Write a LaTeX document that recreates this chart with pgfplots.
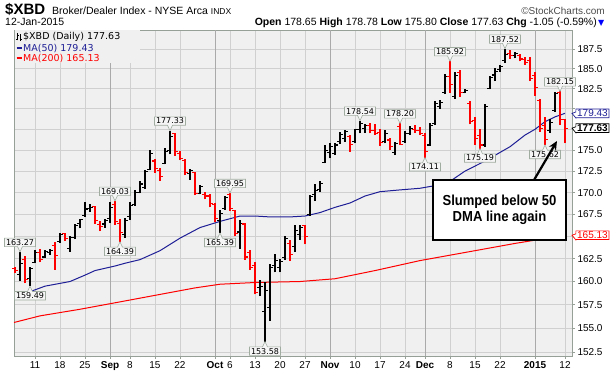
\documentclass[border=0pt]{standalone}
\usepackage{fontspec}
\setmainfont{Liberation Sans}
\newfontfamily\dejavu{DejaVu Sans}
\usepackage{pgfplots}
\pgfplotsset{compat=1.18}
\usepackage{pgfplotstable}
\usetikzlibrary{shapes.callouts,arrows.meta}

\definecolor{bg}{RGB}{240,240,240}
\definecolor{gridc}{RGB}{208,208,208}
\definecolor{gridm}{RGB}{170,170,170}
\definecolor{framec}{RGB}{150,160,150}
\definecolor{maBlue}{RGB}{30,30,150}
\definecolor{barRed}{RGB}{255,0,0}
\definecolor{labfill}{RGB}{246,246,246}
\definecolor{labdraw}{RGB}{160,172,160}

\pgfdeclareplotmark{otick}{\pgfpathmoveto{\pgfqpoint{-2.6pt}{0pt}}\pgfpathlineto{\pgfqpoint{0pt}{0pt}}\pgfusepathqstroke}
\pgfdeclareplotmark{ctick}{\pgfpathmoveto{\pgfqpoint{0pt}{0pt}}\pgfpathlineto{\pgfqpoint{2.6pt}{0pt}}\pgfusepathqstroke}

\pgfplotstableread{
i o h l c
1 160.8 163.27 160.1 162.0
3 160.3 161.6 159.49 161.4
4 162.1 163.5 162.0 163.2
6 162.7 163.5 162.6 163.3
7 163.2 163.6 162.9 163.4
9 164.4 165.4 164.3 165.2
11 163.6 165.0 163.3 164.9
12 164.9 166.4 164.7 166.2
13 166.5 167.0 165.9 166.9
14 167.4 168.9 167.2 168.1
15 168.2 168.7 167.8 168.3
18 166.4 167.0 166.0 166.8
19 167.0 168.9 166.5 168.3
22 165.2 167.1 164.8 166.8
23 167.2 168.9 166.9 168.5
24 168.6 170.3 168.5 170.0
25 170.0 171.3 169.9 171.0
26 170.6 172.7 170.4 172.5
27 172.7 175.0 172.6 174.6
30 173.4 175.2 173.3 174.8
31 175.0 177.33 174.5 176.6
35 172.2 172.8 171.5 172.6
37 169.9 170.9 169.8 170.7
41 166.8 168.0 165.39 167.6
42 168.2 169.6 168.0 169.4
45 165.5 166.8 163.6 166.5
49 159.3 160.2 158.4 159.5
50 156.8 160.0 153.58 159.0
51 157.2 161.9 155.8 161.5
52 161.8 163.0 161.0 162.3
53 161.5 162.5 161.0 162.2
54 162.6 165.0 162.4 164.8
56 163.9 166.3 163.3 165.7
57 165.2 166.3 164.6 166.0
59 167.5 169.7 167.3 169.5
60 169.8 171.0 169.0 170.2
61 170.4 171.3 170.1 171.1
62 173.5 175.6 173.4 175.0
63 174.7 175.8 174.0 175.4
64 174.6 175.8 174.4 175.6
65 176.0 177.2 175.7 176.9
66 176.4 177.4 176.0 177.2
68 176.0 177.6 175.8 177.5
69 177.5 178.54 177.0 178.2
70 177.6 178.1 177.1 178.0
74 176.0 177.4 175.8 177.0
76 174.7 176.0 174.4 175.8
78 176.0 177.3 175.9 177.0
79 177.0 177.9 176.8 177.6
83 175.6 178.2 175.5 177.9
84 178.2 180.9 178.0 180.6
85 180.3 181.1 180.0 180.8
86 182.0 184.3 181.8 184.0
88 181.5 184.6 181.2 184.1
90 182.0 182.4 181.9 182.2
94 175.6 180.6 175.4 180.3
95 182.5 184.0 182.4 183.9
96 184.2 185.1 183.4 184.6
97 184.9 185.5 184.6 185.3
98 186.0 187.52 185.7 186.8
100 186.6 187.1 186.3 186.9
107 177.4 178.7 177.1 178.3
108 179.8 182.1 179.6 181.9
}\blackbars

\pgfplotstableread{
i o h l c
0 161.4 161.6 160.9 161.2
2 162.4 162.8 159.8 160.2
5 163.2 163.6 162.1 162.4
8 164.0 164.4 161.3 162.9
10 165.3 165.4 164.5 164.8
16 168.4 168.5 166.4 166.8
17 166.3 166.7 165.6 166.1
20 168.6 169.03 166.3 166.7
21 166.5 167.0 164.39 165.4
28 173.7 173.9 172.3 172.8
29 172.6 172.9 171.4 171.9
32 177.0 177.1 174.3 174.8
33 174.6 174.9 173.8 174.0
34 173.8 173.9 172.0 172.3
36 172.3 172.4 169.7 169.9
38 169.8 170.1 169.2 169.6
39 169.6 169.8 168.3 168.7
40 168.6 168.8 166.6 167.0
43 169.8 169.95 167.9 168.2
44 167.9 168.0 165.0 165.3
46 166.4 166.5 162.4 162.7
47 163.2 163.5 161.3 161.5
48 161.8 162.2 158.6 158.8
55 164.2 164.6 162.3 163.0
58 166.2 166.3 164.1 165.0
67 176.6 176.8 174.8 175.7
71 178.0 178.3 177.0 177.4
72 177.4 178.1 176.8 177.0
73 177.1 177.6 175.5 175.9
75 176.2 176.4 175.0 175.4
77 177.8 178.20 175.6 175.7
80 177.5 178.0 177.1 177.3
81 177.3 177.8 176.8 177.0
82 176.8 177.0 174.11 174.8
87 184.0 185.92 182.0 183.0
89 184.5 184.8 181.5 182.0
91 180.6 180.9 178.1 178.4
92 178.6 179.0 175.6 176.4
93 176.8 177.5 175.19 175.6
99 186.9 187.3 186.2 186.6
101 186.7 186.8 185.9 186.2
102 186.1 186.5 185.5 185.8
103 186.0 186.5 183.4 183.8
104 184.1 184.6 181.6 182.6
105 181.0 181.2 177.2 177.6
106 178.0 179.0 175.62 176.3
109 182.0 182.15 178.0 178.68
110 178.65 178.78 175.80 177.63
}\redbars

\tikzset{
 vlab/.style={rectangle callout, draw=labdraw, fill=labfill, inner xsep=1.5pt, inner ysep=1.2pt,
   font=\dejavu\fontsize{8}{8}\selectfont, callout pointer width=5pt, line width=0.6pt},
 rlab/.style={rectangle callout, fill=white, inner xsep=1.3pt, inner ysep=0.8pt, line width=0.7pt,
   font=\fontsize{10}{10}\selectfont, callout pointer width=6pt, anchor=west},
}

\begin{document}
\begin{tikzpicture}[x=1pt,y=1pt]
\path[use as bounding box] (0,0) rectangle (614,375);

% header
\node[anchor=base west, inner sep=0] at (5,360.5) {\fontsize{15}{15}\selectfont\bfseries \$XBD};
\node[anchor=base west, inner sep=0] at (52,360.5) {\fontsize{10.5}{10.5}\selectfont Broker/Dealer Index - NYSE Arca \fontsize{8.5}{8.5}\selectfont INDX};
\node[anchor=base east, inner sep=0, text=black!70] at (605,360.5) {\fontsize{10}{10}\selectfont \textcopyright StockCharts.com};
\node[anchor=base west, inner sep=0] at (5,349) {\fontsize{10.5}{10.5}\selectfont 12-Jan-2015};
\node[anchor=base east, inner sep=0] at (597,349) {\fontsize{10.5}{10.5}\selectfont \textbf{Open} 178.65 \textbf{High} 178.78 \textbf{Low} 175.80 \textbf{Close} 177.63 \textbf{Chg} -1.05 (-0.59\%)};
\node[anchor=base west, inner sep=0, text=blue] at (598,349) {\dejavu\fontsize{8}{8}\selectfont ▼};

\begin{axis}[
  at={(14pt,19pt)}, anchor=south west, scale only axis,
  width=558pt, height=326pt,
  ymode=log, ymin=152.09, ymax=189.94,
  xmin=-0.2, xmax=111.4,
  clip=false,
  axis background/.style={fill=bg},
  axis line style={framec, line width=0.8pt},
  ytick={152.5,155,157.5,160,162.5,165,167.5,170,172.5,175,177.5,180,182.5,185,187.5},
  yticklabels={152.5,155.0,157.5,160.0,162.5,{},167.5,170.0,172.5,175.0,{},{},182.5,185.0,187.5},
  ytick pos=right, yticklabel pos=right,
  xtick={4,9,14,19,23,28,33,40,43,48,53,58,63,68,73,78,82,87,92,97,104,110},
  xticklabels={11,18,25,\textbf{Sep},8,15,22,\textbf{Oct},6,13,20,27,\textbf{Nov},10,17,24,\textbf{Dec},8,15,22,\textbf{2015},12},
  xtick pos=bottom,
  minor xtick={0,1,...,110},
  tick align=outside, major tick length=3pt, minor tick length=1.5pt,
  tick style={framec, line width=0.6pt},
  grid=major, grid style={gridc, line width=0.6pt},
  extra x ticks={19,40,63,82,104}, extra x tick labels={},
  extra x tick style={grid style={gridm, line width=0.7pt}, major tick length=0pt},
  every tick label/.append style={font=\fontsize{10}{10}\selectfont, text=black},
  x tick label style={yshift=1pt},
  y tick label style={xshift=-1pt},
]

% moving averages
\addplot[barRed, line width=1pt] coordinates {
(-0.2,155.6) (5,156.3) (13,157.0) (21,157.8) (29,158.6) (36,159.3) (41,159.7) (48,159.9)
(57,160.0) (64,160.3) (72,161.2) (81,162.3) (90,163.2) (100,164.2) (110,165.13)};
\addplot[maBlue, line width=1pt] coordinates {
(3,158.9) (6,159.5) (11,160.0) (14,160.7) (16,161.2) (20,161.7) (22,162.0) (25,162.4)
(29,163.4) (33,164.8) (37,166.0) (41,166.7) (45,167.3) (48,167.3) (51,167.2) (55,167.2)
(58,167.3) (61,167.7) (64,168.3) (67,168.8) (70,169.6) (73,170.1) (77,170.3) (81,170.5)
(84,170.8) (87,171.3) (90,172.5) (94,173.7) (99,175.4) (102,176.8) (104,177.5) (106,178.4)
(108,179.0) (110,179.43)};

% OHLC bars: high-low
\addplot[draw=none, mark=none, error bars/.cd, y dir=plus, y explicit, error mark=none,
  error bar style={draw=black, line width=1.1pt}]
  table[x=i, y=l, y error expr=\thisrow{h}-\thisrow{l}] {\blackbars};
\addplot[draw=none, mark=none, error bars/.cd, y dir=plus, y explicit, error mark=none,
  error bar style={draw=barRed, line width=1.1pt}]
  table[x=i, y=l, y error expr=\thisrow{h}-\thisrow{l}] {\redbars};
% open / close ticks
\addplot[black, only marks, mark=otick, mark options={line width=1.1pt, black}] table[x=i, y=o] {\blackbars};
\addplot[black, only marks, mark=ctick, mark options={line width=1.1pt, black}] table[x=i, y=c] {\blackbars};
\addplot[barRed, only marks, mark=otick, mark options={line width=1.1pt, barRed}] table[x=i, y=o] {\redbars};
\addplot[barRed, only marks, mark=ctick, mark options={line width=1.1pt, barRed}] table[x=i, y=c] {\redbars};

% swing labels (highs)
\node[vlab, anchor=south, callout absolute pointer={(axis cs:1,163.27)}] at ([yshift=5pt]axis cs:1,163.27) {163.27};
\node[vlab, anchor=south, callout absolute pointer={(axis cs:20,169.03)}] at ([yshift=5pt]axis cs:20,169.03) {169.03};
\node[vlab, anchor=south, callout absolute pointer={(axis cs:31,177.33)}] at ([yshift=5pt]axis cs:31,177.33) {177.33};
\node[vlab, anchor=south, callout absolute pointer={(axis cs:43,169.95)}] at ([yshift=5pt]axis cs:43,169.95) {169.95};
\node[vlab, anchor=south, callout absolute pointer={(axis cs:69,178.54)}] at ([yshift=5pt]axis cs:69,178.54) {178.54};
\node[vlab, anchor=south, callout absolute pointer={(axis cs:77,178.20)}] at ([yshift=5pt]axis cs:77,178.20) {178.20};
\node[vlab, anchor=south, callout absolute pointer={(axis cs:87,185.92)}] at ([yshift=5pt]axis cs:87,185.92) {185.92};
\node[vlab, anchor=south, callout absolute pointer={(axis cs:98,187.52)}] at ([yshift=5pt]axis cs:98,187.52) {187.52};
\node[vlab, anchor=south, callout absolute pointer={(axis cs:109,182.15)}] at ([yshift=5pt]axis cs:109,182.15) {182.15};
% swing labels (lows)
\node[vlab, anchor=north, callout absolute pointer={(axis cs:3,159.49)}] at ([yshift=-5pt]axis cs:3,159.49) {159.49};
\node[vlab, anchor=north, callout absolute pointer={(axis cs:21,164.39)}] at ([yshift=-5pt]axis cs:21,164.39) {164.39};
\node[vlab, anchor=north, callout absolute pointer={(axis cs:41,165.39)}] at ([yshift=-5pt]axis cs:41,165.39) {165.39};
\node[vlab, anchor=north, callout absolute pointer={(axis cs:50,153.58)}] at ([yshift=-5pt]axis cs:50,153.58) {153.58};
\node[vlab, anchor=north, callout absolute pointer={(axis cs:82,174.11)}] at ([yshift=-5pt]axis cs:82,174.11) {174.11};
\node[vlab, anchor=north, callout absolute pointer={(axis cs:93,175.19)}] at ([yshift=-5pt]axis cs:93,175.19) {175.19};
\node[vlab, anchor=north, callout absolute pointer={(axis cs:106,175.62)}] at ([yshift=-5pt]axis cs:106,175.62) {175.62};

% right-hand value tags
\node[rlab, draw=maBlue, text=maBlue, callout absolute pointer={(axis cs:111.4,179.43)}] at ([xshift=3.5pt]axis cs:111.4,179.43) {179.43};
\node[rlab, draw=black, text=black, font=\fontsize{10}{10}\selectfont\bfseries, callout absolute pointer={(axis cs:111.4,177.63)}] at ([xshift=3.5pt]axis cs:111.4,177.63) {177.63};
\node[rlab, draw=barRed, text=barRed, callout absolute pointer={(axis cs:111.4,165.13)}] at ([xshift=3.5pt]axis cs:111.4,165.13) {165.13};
\end{axis}

% legend
\fill[bg] (15,312) rectangle (140,344.5);
\begin{scope}[line width=0.8pt]
\draw (17.5,334.5)--(17.5,341.5); \draw (16,336)--(17.5,336); \draw (17.5,340)--(19,340);
\draw (20.5,334)--(20.5,341); \draw (19.8,339)--(20.5,339); \draw (20.5,335.5)--(21.7,335.5);
\end{scope}
\node[anchor=west, inner sep=0] at (23,337.7) {\dejavu\fontsize{9.5}{9.5}\selectfont \$XBD (Daily) 177.63};
\draw[maBlue, line width=1.6pt] (16.5,326.7)--(22,326.7);
\node[anchor=west, inner sep=0, text=maBlue] at (23,326.7) {\dejavu\fontsize{9.5}{9.5}\selectfont MA(50) 179.43};
\draw[barRed, line width=1.6pt] (16.5,316.7)--(22,316.7);
\node[anchor=west, inner sep=0, text=barRed] at (23,316.7) {\dejavu\fontsize{9.5}{9.5}\selectfont MA(200) 165.13};

% annotation
\node[draw=black, line width=1.8pt, fill=white, minimum width=133pt, minimum height=60pt, inner sep=0pt,
  align=center] at (499.5,165) {\scalebox{0.9}[1]{\fontsize{14.5}{23}\selectfont\bfseries Slumped below 50}\\[1pt]\scalebox{0.9}[1]{\fontsize{14.5}{23}\selectfont\bfseries DMA line again}};
\draw[line width=2.2pt, -{Stealth[length=9pt,width=8pt]}] (534,195) -- (557,234);
\end{tikzpicture}
\end{document}
